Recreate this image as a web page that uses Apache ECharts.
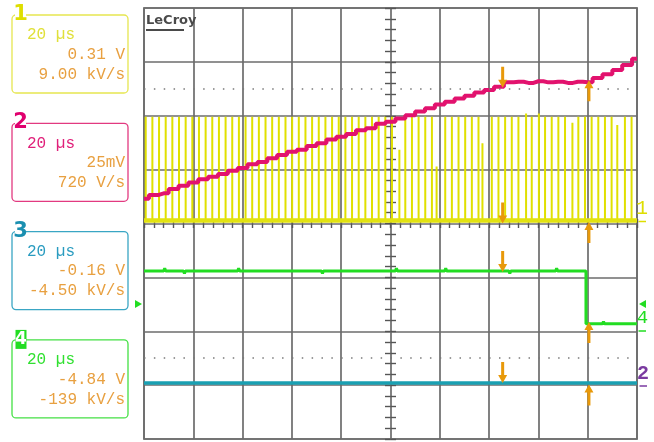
<!DOCTYPE html>
<html><head><meta charset="utf-8">
<script src="https://cdn.jsdelivr.net/npm/echarts@6/dist/echarts.min.js"></script>
<style>html,body{margin:0;padding:0;background:#fff}#c{width:654px;height:442px}</style>
</head><body><div id="c"></div>
<script>
// Time axis in µs (20 µs/div, trigger at centre), vertical axis in divisions
const timeMin = -100, timeMax = 100, timeDiv = 20;
const vMin = -4, vMax = 4, vDiv = 1;
const dottedLevels = [2.5, -2.5];

// Channel 1 (yellow): pulse train on a baseline
const ch1Base = 0.057;
const ch1PulseTimes = [-99.3,-96.6,-93.9,-91.2,-88.5,-85.8,-83.1,-80.4,-77.7,-75.0,-72.3,-69.6,-66.9,-64.2,-61.5,-58.8,-56.1,-53.4,-50.7,-48.0,-45.3,-42.6,-39.9,-37.2,-34.5,-31.8,-29.1,-26.4,-23.7,-21.0,-18.3,-15.6,-12.9,-10.2,-7.5,-4.8,-2.1,0.6,3.6,6.0,8.7,11.4,14.1,16.8,18.7,22.2,24.9,27.6,30.3,33.0,35.7,37.3,41.1,43.8,46.5,49.2,51.9,55.0,57.3,60.2,62.7,65.4,68.1,70.8,73.8,76.2,78.9,81.6,84.3,87.0,89.7,92.0,95.1,97.8];
const ch1PulseTops  = [1.98,1.98,1.98,1.98,1.98,1.98,1.98,1.98,1.98,1.98,1.98,1.98,1.98,1.98,1.98,1.98,1.98,1.98,1.98,1.98,1.98,1.98,1.98,1.98,1.98,1.98,1.98,1.98,1.98,1.98,1.98,1.98,1.98,1.98,1.98,1.98,1.98,1.98,1.37,1.98,1.98,1.98,1.98,1.98,1.06,1.98,1.98,1.98,1.98,1.98,1.98,1.49,1.98,1.98,1.98,1.98,1.98,2.04,1.98,2.04,1.98,1.98,1.98,1.98,1.87,1.98,1.98,1.98,1.98,1.98,1.98,1.83,1.98,1.98];

// Channel 2 (magenta): ramp, plateau, ramp
const ch2Times  = [-100,-96,-92,-88,-84,-80,-76,-72,-68,-64,-60,-56,-52,-48,-44,-40,-36,-32,-28,-24,-20,-16,-12,-8,-4,0,4,8,12,16,20,24,28,32,36,40,44,48,52,56,60,64,68,72,76,80,84,88,92,96,100];
const ch2Values = [0.46,0.53,0.56,0.64,0.70,0.76,0.82,0.87,0.92,0.98,1.03,1.10,1.14,1.21,1.27,1.33,1.37,1.44,1.49,1.56,1.61,1.66,1.73,1.77,1.85,1.89,1.95,2.01,2.08,2.14,2.21,2.26,2.32,2.37,2.43,2.48,2.54,2.62,2.63,2.61,2.64,2.62,2.63,2.61,2.63,2.62,2.70,2.77,2.85,2.94,3.06];

// Channel 4 trace (green): flat, step down
const ch4Times  = [-100,-92,-91.6,-91.2,-84,-83.6,-83.2,-62,-61.6,-61.2,-28,-27.6,-27.2,2,2.4,2.8,22,22.4,22.8,48,48.4,48.8,67,67.4,67.8,79.3,79.3,86,86.4,86.8,100];
const ch4Values = [-0.88,-0.88,-0.83,-0.88,-0.88,-0.93,-0.88,-0.88,-0.83,-0.88,-0.88,-0.93,-0.88,-0.88,-0.83,-0.88,-0.88,-0.83,-0.88,-0.88,-0.93,-0.88,-0.88,-0.83,-0.88,-0.88,-1.86,-1.86,-1.82,-1.86,-1.86];

// Channel 3 trace (cyan): flat
const ch3Times  = [-100,-40,20,100];
const ch3Values = [-2.96,-2.96,-2.96,-2.96];

// Cursor markers
const cursorTimes = [45.5, 80.5];
const cursorAValues = [2.52, 0.0, -0.9, -2.96];
const cursorBValues = [2.66, 0.03, -1.83, -2.99];

// Side panel texts
const panelLabels = ['1','2','3','4'];
const panelTimebase = ['20 µs','20 µs','20 µs','20 µs'];
const panelOffsets = ['0.31 V','25mV','-0.16 V','-4.84 V'];
const panelSlopes = ['9.00 kV/s','720 V/s','-4.50 kV/s','-139 kV/s'];

const zip = (a,b) => a.map((v,i)=>[v,b[i]]);
const pulseData = [];
ch1PulseTimes.forEach((t,i)=>{ pulseData.push([t,ch1Base],[t,ch1PulseTops[i]],[t,'-']); });

const grey = '#6c6c6c';
const tickStyle = {color:'#555', width:1.4};
function tickX(inside){return {type:'value',min:timeMin,max:timeMax,interval:4,position:'bottom',
  axisLine:{show:false,onZero:true,onZeroAxisIndex:0},axisTick:{show:true,inside:inside,length:4.5,lineStyle:tickStyle},
  axisLabel:{show:false},splitLine:{show:false}};}
function tickY(inside){return {type:'value',min:vMin,max:vMax,interval:0.2,position:'left',
  axisLine:{show:false,onZero:true,onZeroAxisIndex:0},axisTick:{show:true,inside:inside,length:5.5,lineStyle:tickStyle},
  axisLabel:{show:false},splitLine:{show:false}};}

const arrowDown = 'path://M2.5,0 L5.5,0 L5.5,13 L8.5,13 L4,21 L-0.5,13 L2.5,13 Z';
const arrowUp = 'path://M4,0 L8.5,8 L5.5,8 L5.5,21 L2.5,21 L2.5,8 L-0.5,8 Z';
const orange = '#e8990a';

const chart = echarts.init(document.getElementById('c'), null, {renderer:'canvas'});
const option = {
  animation:false,
  grid:{left:144,right:17,top:8,bottom:3,show:true,borderColor:'#8c8c8c',borderWidth:2,backgroundColor:'transparent'},
  xAxis:[
    {type:'value',min:timeMin,max:timeMax,interval:timeDiv,axisLine:{show:false},axisTick:{show:false},axisLabel:{show:false},
     splitLine:{show:true,lineStyle:{color:grey,width:1.7}}},
    tickX(false), tickX(true)
  ],
  yAxis:[
    {type:'value',min:vMin,max:vMax,interval:vDiv,axisLine:{show:false},axisTick:{show:false},axisLabel:{show:false},
     splitLine:{show:true,lineStyle:{color:grey,width:1.7}}},
    tickY(false), tickY(true)
  ],
  series:[
    {type:'line',name:'dots',data:[],symbol:'none',silent:true,
     markLine:{silent:true,symbol:'none',label:{show:false},
       lineStyle:{color:'#7a7a7a',width:1.5,type:[1.5,8.36]},
       data:dottedLevels.map(v=>({yAxis:v}))}},
    {type:'line',name:'ch1 pulses',data:pulseData,symbol:'none',connectNulls:false,
     lineStyle:{color:'#e0e000',width:2},z:2},
    {type:'line',name:'ch1 base',data:[[timeMin,ch1Base],[timeMax,ch1Base]],symbol:'none',
     lineStyle:{color:'#e2e210',width:4.5},z:2},
    {type:'line',name:'ch2',data:zip(ch2Times,ch2Values),symbol:'none',step:'middle',
     lineStyle:{color:'#e2126e',width:4},z:3},
    {type:'line',name:'ch4',data:zip(ch4Times,ch4Values),symbol:'none',
     lineStyle:{color:'#22dd22',width:3},z:3},
    {type:'line',name:'ch3',data:zip(ch3Times,ch3Values),symbol:'none',
     lineStyle:{color:'#1aa0b2',width:3.5},z:3},
    {type:'scatter',name:'cursorA',data:cursorAValues.map(v=>[cursorTimes[0],v]),symbol:arrowDown,symbolSize:[9,21],
     symbolOffset:[0,'-50%'],itemStyle:{color:orange,opacity:1},z:5,silent:true},
    {type:'scatter',name:'cursorB',data:cursorBValues.map(v=>[cursorTimes[1],v]),symbol:arrowUp,symbolSize:[9,21],
     symbolOffset:[0,'50%'],itemStyle:{color:orange,opacity:1},z:5,silent:true}
  ]
};
chart.setOption(option);

// Side panels and decorations
const borderColors = ['#e6e650','#e23a80','#3aa6c4','#44e044'];
const labelColors = ['#dede00','#e0006e','#1a8fb0','#22dd22'];
const tbColors = ['#e0e03a','#e0207a','#2a9cc0','#30e030'];
const valColor = '#e8a040';
const monoFont = '16px "Liberation Mono", "DejaVu Sans Mono", monospace';
const g = [];
panelLabels.forEach((lab,i)=>{
  const top = 15 + i*108.3;
  g.push({type:'rect',shape:{x:12,y:top,width:116,height:78,r:4},style:{fill:'none',stroke:borderColors[i],lineWidth:1.3}});
  if(i===3){
    g.push({type:'rect',shape:{x:15.5,y:top-10,width:11,height:19},style:{fill:labelColors[i]}});
    g.push({type:'text',style:{text:lab,x:21,y:top-0.5,fill:'#fff',font:'bold 17px "DejaVu Sans"',textAlign:'center',textVerticalAlign:'middle'}});
  } else {
    g.push({type:'rect',shape:{x:15,y:top-4,width:11,height:8},style:{fill:'#fff'}});
    g.push({type:'text',style:{text:lab,x:20.5,y:top-0.5,fill:labelColors[i],font:'bold 21px "DejaVu Sans"',textAlign:'center',textVerticalAlign:'middle'}});
  }
  g.push({type:'text',style:{text:panelTimebase[i],x:27,y:top+20,fill:tbColors[i],font:monoFont,textAlign:'left',textVerticalAlign:'middle'}});
  g.push({type:'text',style:{text:panelOffsets[i],x:125,y:top+39.5,fill:valColor,font:monoFont,textAlign:'right',textVerticalAlign:'middle'}});
  g.push({type:'text',style:{text:panelSlopes[i],x:125,y:top+59.5,fill:valColor,font:monoFont,textAlign:'right',textVerticalAlign:'middle'}});
});
// LeCroy logo
g.push({type:'text',style:{text:'LeCroy',x:146,y:21,fill:'#4a4a4a',font:'bold 13px "DejaVu Sans"',textAlign:'left',textVerticalAlign:'middle'}});
g.push({type:'line',shape:{x1:146,y1:30,x2:184,y2:30},style:{stroke:'#4a4a4a',lineWidth:2}});
// Right-edge channel markers
g.push({type:'text',style:{text:'1',x:642,y:209,fill:'#dede00',font:'20px "Liberation Mono"',textAlign:'center',textVerticalAlign:'middle'}});
g.push({type:'line',shape:{x1:638.5,y1:221.5,x2:646,y2:221.5},style:{stroke:'#dede00',lineWidth:1.5}});
g.push({type:'polygon',shape:{points:[[646,300],[646,308],[639,304]]},style:{fill:'#22dd22'}});
g.push({type:'text',style:{text:'4',x:642.5,y:318,fill:'#22dd22',font:'19px "Liberation Mono"',textAlign:'center',textVerticalAlign:'middle'}});
g.push({type:'line',shape:{x1:638.5,y1:331,x2:646,y2:331},style:{stroke:'#22dd22',lineWidth:1.5}});
g.push({type:'text',style:{text:'2',x:643,y:374,fill:'#7a3aa0',font:'bold 20px "Liberation Mono"',textAlign:'center',textVerticalAlign:'middle'}});
g.push({type:'line',shape:{x1:639.5,y1:386,x2:647,y2:386},style:{stroke:'#7a3aa0',lineWidth:1.5}});
// Left trigger-level marker
g.push({type:'polygon',shape:{points:[[135,300],[135,308],[142,304]]},style:{fill:'#22dd22'}});
chart.setOption({graphic:{elements:g}});
</script></body></html>
